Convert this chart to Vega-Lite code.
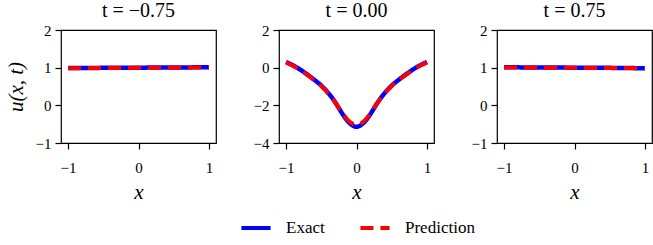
{
  "$schema": "https://vega.github.io/schema/vega-lite/v6.json",
  "padding": {"left": 4, "top": 0, "right": 0, "bottom": 2},
  "bounds": "flush",
  "spacing": 63,
  "config": {
    "font": "Liberation Serif",
    "view": {"stroke": "black", "strokeWidth": 1.2},
    "axis": {
      "domain": false,
      "grid": false,
      "tickColor": "black",
      "tickSize": 6,
      "tickWidth": 1.2,
      "labelColor": "black",
      "labelFont": "Liberation Serif",
      "labelFontSize": 15,
      "titleColor": "black",
      "titleFont": "Liberation Serif",
      "titleFontSize": 21,
      "titleFontStyle": "italic",
      "titleFontWeight": "normal"
    },
    "axisX": {"titlePadding": 6, "labelFlush": false, "labelPadding": 11},
    "axisY": {"titlePadding": 9, "labelPadding": 4},
    "title": {"font": "Liberation Serif", "fontSize": 20, "fontWeight": "normal", "color": "black", "offset": 2},
    "legend": {"labelFont": "Liberation Serif", "labelFontSize": 17, "labelColor": "black"}
  },
  "data": {
    "values": [
      {"t": -0.75, "series": "Exact", "x": -1.0, "u": 0.99},
      {"t": -0.75, "series": "Exact", "x": -0.5, "u": 0.995},
      {"t": -0.75, "series": "Exact", "x": 0.0, "u": 1.0},
      {"t": -0.75, "series": "Exact", "x": 0.5, "u": 1.005},
      {"t": -0.75, "series": "Exact", "x": 1.0, "u": 1.01},
      {"t": -0.75, "series": "Prediction", "x": -1.0, "u": 0.985},
      {"t": -0.75, "series": "Prediction", "x": -0.5, "u": 0.99},
      {"t": -0.75, "series": "Prediction", "x": 0.0, "u": 0.995},
      {"t": -0.75, "series": "Prediction", "x": 0.5, "u": 1.0},
      {"t": -0.75, "series": "Prediction", "x": 1.0, "u": 1.005},

      {"t": 0, "series": "Exact", "x": -1.0, "u": 0.3},
      {"t": 0, "series": "Exact", "x": -0.9, "u": 0.12},
      {"t": 0, "series": "Exact", "x": -0.8, "u": -0.1},
      {"t": 0, "series": "Exact", "x": -0.7, "u": -0.36},
      {"t": 0, "series": "Exact", "x": -0.6, "u": -0.64},
      {"t": 0, "series": "Exact", "x": -0.5, "u": -0.95},
      {"t": 0, "series": "Exact", "x": -0.4, "u": -1.35},
      {"t": 0, "series": "Exact", "x": -0.3, "u": -1.85},
      {"t": 0, "series": "Exact", "x": -0.25, "u": -2.15},
      {"t": 0, "series": "Exact", "x": -0.2, "u": -2.45},
      {"t": 0, "series": "Exact", "x": -0.15, "u": -2.72},
      {"t": 0, "series": "Exact", "x": -0.1, "u": -2.93},
      {"t": 0, "series": "Exact", "x": -0.05, "u": -3.08},
      {"t": 0, "series": "Exact", "x": 0.0, "u": -3.14},
      {"t": 0, "series": "Exact", "x": 0.05, "u": -3.08},
      {"t": 0, "series": "Exact", "x": 0.1, "u": -2.93},
      {"t": 0, "series": "Exact", "x": 0.15, "u": -2.72},
      {"t": 0, "series": "Exact", "x": 0.2, "u": -2.45},
      {"t": 0, "series": "Exact", "x": 0.25, "u": -2.15},
      {"t": 0, "series": "Exact", "x": 0.3, "u": -1.85},
      {"t": 0, "series": "Exact", "x": 0.4, "u": -1.35},
      {"t": 0, "series": "Exact", "x": 0.5, "u": -0.95},
      {"t": 0, "series": "Exact", "x": 0.6, "u": -0.64},
      {"t": 0, "series": "Exact", "x": 0.7, "u": -0.36},
      {"t": 0, "series": "Exact", "x": 0.8, "u": -0.1},
      {"t": 0, "series": "Exact", "x": 0.9, "u": 0.12},
      {"t": 0, "series": "Exact", "x": 1.0, "u": 0.3},

      {"t": 0, "series": "Prediction", "x": -1.0, "u": 0.28},
      {"t": 0, "series": "Prediction", "x": -0.9, "u": 0.1},
      {"t": 0, "series": "Prediction", "x": -0.8, "u": -0.12},
      {"t": 0, "series": "Prediction", "x": -0.7, "u": -0.38},
      {"t": 0, "series": "Prediction", "x": -0.6, "u": -0.66},
      {"t": 0, "series": "Prediction", "x": -0.5, "u": -0.97},
      {"t": 0, "series": "Prediction", "x": -0.4, "u": -1.37},
      {"t": 0, "series": "Prediction", "x": -0.3, "u": -1.86},
      {"t": 0, "series": "Prediction", "x": -0.25, "u": -2.14},
      {"t": 0, "series": "Prediction", "x": -0.2, "u": -2.42},
      {"t": 0, "series": "Prediction", "x": -0.15, "u": -2.66},
      {"t": 0, "series": "Prediction", "x": -0.1, "u": -2.86},
      {"t": 0, "series": "Prediction", "x": -0.05, "u": -2.98},
      {"t": 0, "series": "Prediction", "x": 0.0, "u": -3.02},
      {"t": 0, "series": "Prediction", "x": 0.05, "u": -2.98},
      {"t": 0, "series": "Prediction", "x": 0.1, "u": -2.86},
      {"t": 0, "series": "Prediction", "x": 0.15, "u": -2.66},
      {"t": 0, "series": "Prediction", "x": 0.2, "u": -2.42},
      {"t": 0, "series": "Prediction", "x": 0.25, "u": -2.14},
      {"t": 0, "series": "Prediction", "x": 0.3, "u": -1.86},
      {"t": 0, "series": "Prediction", "x": 0.4, "u": -1.37},
      {"t": 0, "series": "Prediction", "x": 0.5, "u": -0.97},
      {"t": 0, "series": "Prediction", "x": 0.6, "u": -0.66},
      {"t": 0, "series": "Prediction", "x": 0.7, "u": -0.38},
      {"t": 0, "series": "Prediction", "x": 0.8, "u": -0.12},
      {"t": 0, "series": "Prediction", "x": 0.9, "u": 0.1},
      {"t": 0, "series": "Prediction", "x": 1.0, "u": 0.28},

      {"t": 0.75, "series": "Exact", "x": -1.0, "u": 1.01},
      {"t": 0.75, "series": "Exact", "x": -0.5, "u": 1.005},
      {"t": 0.75, "series": "Exact", "x": 0.0, "u": 1.0},
      {"t": 0.75, "series": "Exact", "x": 0.5, "u": 0.995},
      {"t": 0.75, "series": "Exact", "x": 1.0, "u": 0.985},
      {"t": 0.75, "series": "Prediction", "x": -1.0, "u": 1.005},
      {"t": 0.75, "series": "Prediction", "x": -0.5, "u": 1.0},
      {"t": 0.75, "series": "Prediction", "x": 0.0, "u": 0.995},
      {"t": 0.75, "series": "Prediction", "x": 0.5, "u": 0.99},
      {"t": 0.75, "series": "Prediction", "x": 1.0, "u": 0.985}
    ]
  },
  "hconcat": [
    {
      "width": 155, "height": 113,
      "title": "t = −0.75",
      "transform": [{"filter": "datum.t == -0.75"}],
      "encoding": {
        "x": {"field": "x", "type": "quantitative", "scale": {"domain": [-1.1, 1.1], "nice": false}, "axis": {"values": [-1, 0, 1], "title": "x"}},
        "y": {"field": "u", "type": "quantitative", "scale": {"domain": [-1, 2], "nice": false, "zero": false}, "axis": {"values": [-1, 0, 1, 2], "title": "u(x, t)"}},
        "color": {"field": "series", "type": "nominal", "scale": {"domain": ["Exact", "Prediction"], "range": ["#0000ff", "#ff0000"]},
          "legend": {"title": null, "orient": "none", "direction": "horizontal", "legendX": 178, "legendY": 181, "symbolType": "stroke", "symbolSize": 850, "symbolStrokeWidth": 4, "labelOffset": 13, "columnPadding": 27}},
        "strokeDash": {"field": "series", "type": "nominal", "scale": {"domain": ["Exact", "Prediction"], "range": [[1, 0], [13, 7]]}}
      },
      "layer": [
        {"transform": [{"filter": "datum.series == 'Exact'"}], "mark": {"type": "line", "strokeWidth": 4.5, "strokeCap": "butt"}},
        {"transform": [{"filter": "datum.series == 'Prediction'"}], "mark": {"type": "line", "strokeWidth": 4, "strokeCap": "butt"}}
      ]
    },
    {
      "width": 155, "height": 113,
      "title": "t = 0.00",
      "transform": [{"filter": "datum.t == 0"}],
      "encoding": {
        "x": {"field": "x", "type": "quantitative", "scale": {"domain": [-1.1, 1.1], "nice": false}, "axis": {"values": [-1, 0, 1], "title": "x"}},
        "y": {"field": "u", "type": "quantitative", "scale": {"domain": [-4, 2], "nice": false, "zero": false}, "axis": {"values": [-4, -2, 0, 2], "title": null}},
        "color": {"field": "series", "type": "nominal", "scale": {"domain": ["Exact", "Prediction"], "range": ["#0000ff", "#ff0000"]}},
        "strokeDash": {"field": "series", "type": "nominal", "scale": {"domain": ["Exact", "Prediction"], "range": [[1, 0], [13, 7]]}}
      },
      "layer": [
        {"transform": [{"filter": "datum.series == 'Exact'"}], "mark": {"type": "line", "strokeWidth": 4.5, "strokeCap": "butt", "interpolate": "monotone"}},
        {"transform": [{"filter": "datum.series == 'Prediction'"}], "mark": {"type": "line", "strokeWidth": 4, "strokeCap": "butt", "interpolate": "monotone"}}
      ]
    },
    {
      "width": 155, "height": 113,
      "title": "t = 0.75",
      "transform": [{"filter": "datum.t == 0.75"}],
      "encoding": {
        "x": {"field": "x", "type": "quantitative", "scale": {"domain": [-1.1, 1.1], "nice": false}, "axis": {"values": [-1, 0, 1], "title": "x"}},
        "y": {"field": "u", "type": "quantitative", "scale": {"domain": [-1, 2], "nice": false, "zero": false}, "axis": {"values": [-1, 0, 1, 2], "title": null}},
        "color": {"field": "series", "type": "nominal", "scale": {"domain": ["Exact", "Prediction"], "range": ["#0000ff", "#ff0000"]}},
        "strokeDash": {"field": "series", "type": "nominal", "scale": {"domain": ["Exact", "Prediction"], "range": [[1, 0], [13, 7]]}}
      },
      "layer": [
        {"transform": [{"filter": "datum.series == 'Exact'"}], "mark": {"type": "line", "strokeWidth": 4.5, "strokeCap": "butt"}},
        {"transform": [{"filter": "datum.series == 'Prediction'"}], "mark": {"type": "line", "strokeWidth": 4, "strokeCap": "butt"}}
      ]
    }
  ],
  "resolve": {"scale": {"y": "independent", "x": "independent"}}
}
